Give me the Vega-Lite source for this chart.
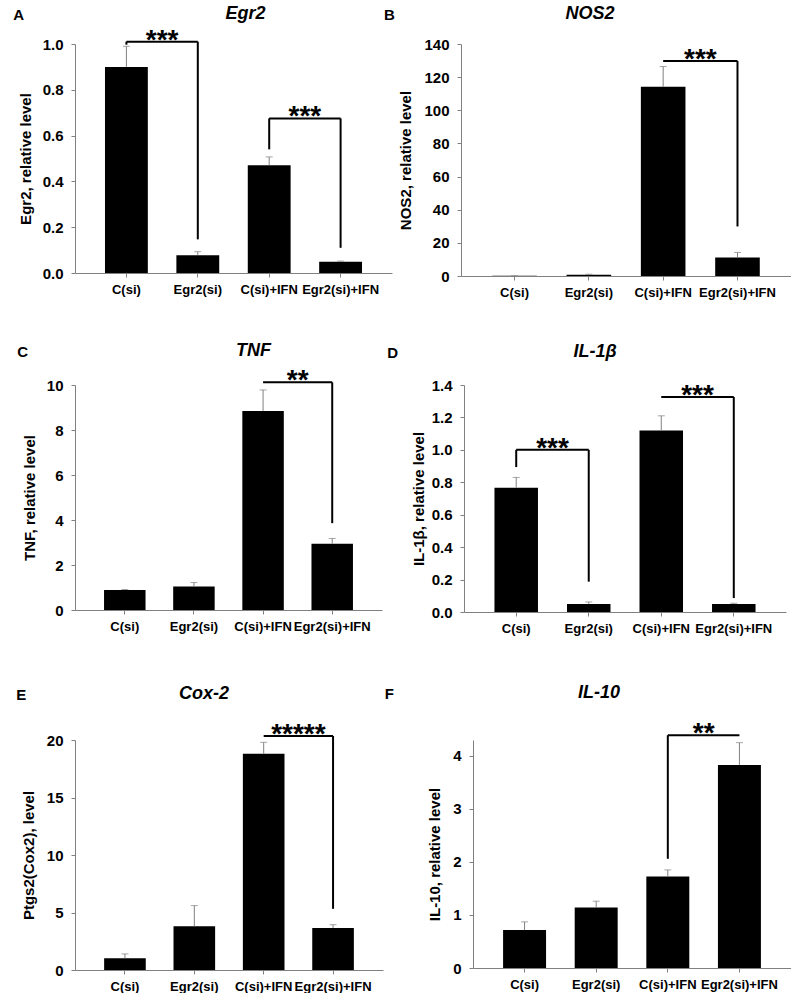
{
  "$schema": "https://vega.github.io/schema/vega-lite/v6.json",
  "background": "white",
  "padding": {"left": 13, "top": 4, "right": 0, "bottom": 0},
  "datasets": {
    "bars": [
      {"panel": "A", "g": "C(si)", "v": 0.90, "err": 0.99},
      {"panel": "A", "g": "Egr2(si)", "v": 0.078, "err": 0.093},
      {"panel": "A", "g": "C(si)+IFN", "v": 0.47, "err": 0.507},
      {"panel": "A", "g": "Egr2(si)+IFN", "v": 0.049, "err": 0.052},
      {"panel": "B", "g": "C(si)", "v": 0.1, "err": 0.15},
      {"panel": "B", "g": "Egr2(si)", "v": 0.8, "err": 1.1},
      {"panel": "B", "g": "C(si)+IFN", "v": 114.2, "err": 126.4},
      {"panel": "B", "g": "Egr2(si)+IFN", "v": 11.2, "err": 14.2},
      {"panel": "C", "g": "C(si)", "v": 0.89, "err": 0.91},
      {"panel": "C", "g": "Egr2(si)", "v": 1.04, "err": 1.22},
      {"panel": "C", "g": "C(si)+IFN", "v": 8.85, "err": 9.78},
      {"panel": "C", "g": "Egr2(si)+IFN", "v": 2.95, "err": 3.18},
      {"panel": "D", "g": "C(si)", "v": 0.767, "err": 0.83},
      {"panel": "D", "g": "Egr2(si)", "v": 0.05, "err": 0.062},
      {"panel": "D", "g": "C(si)+IFN", "v": 1.119, "err": 1.21},
      {"panel": "D", "g": "Egr2(si)+IFN", "v": 0.05, "err": 0.054},
      {"panel": "E", "g": "C(si)", "v": 1.02, "err": 1.4},
      {"panel": "E", "g": "Egr2(si)", "v": 3.8, "err": 5.6},
      {"panel": "E", "g": "C(si)+IFN", "v": 18.8, "err": 19.8},
      {"panel": "E", "g": "Egr2(si)+IFN", "v": 3.65, "err": 3.94},
      {"panel": "F", "g": "C(si)", "v": 0.716, "err": 0.87},
      {"panel": "F", "g": "Egr2(si)", "v": 1.14, "err": 1.26},
      {"panel": "F", "g": "C(si)+IFN", "v": 1.725, "err": 1.85},
      {"panel": "F", "g": "Egr2(si)+IFN", "v": 3.83, "err": 4.25}
    ],
    "sig": [
      {"panel": "A", "g1": "C(si)", "g2": "Egr2(si)", "yb": 1.01, "yl": 0.997, "yr": 0.147, "stars": "***"},
      {"panel": "A", "g1": "C(si)+IFN", "g2": "Egr2(si)+IFN", "yb": 0.675, "yl": 0.54, "yr": 0.11, "stars": "***"},
      {"panel": "B", "g1": "C(si)+IFN", "g2": "Egr2(si)+IFN", "yb": 129.7, "yl": 129.7, "yr": 29.9, "stars": "***"},
      {"panel": "C", "g1": "C(si)+IFN", "g2": "Egr2(si)+IFN", "yb": 10.12, "yl": 10.12, "yr": 3.86, "stars": "**"},
      {"panel": "D", "g1": "C(si)", "g2": "Egr2(si)", "yb": 1.0, "yl": 0.894, "yr": 0.187, "stars": "***"},
      {"panel": "D", "g1": "C(si)+IFN", "g2": "Egr2(si)+IFN", "yb": 1.326, "yl": 1.326, "yr": 0.086, "stars": "***"},
      {"panel": "E", "g1": "C(si)+IFN", "g2": "Egr2(si)+IFN", "yb": 20.35, "yl": 20.35, "yr": 5.32, "stars": "*****"},
      {"panel": "F", "g1": "C(si)+IFN", "g2": "Egr2(si)+IFN", "yb": 4.39, "yl": 2.06, "yr": 4.39, "stars": "**"}
    ]
  },
  "spacing": 43,
  "vconcat": [
    {
      "spacing": -9,
      "hconcat": [
        {
          "title": {"text": "A", "anchor": "start", "frame": "bounds", "fontStyle": "normal", "fontSize": 15, "dy": 22, "dx": -5},
          "vconcat": [
            {
              "width": 317, "height": 229,
              "title": {"text": "Egr2", "dx": 12},
              "layer": [
                {"data": {"name": "bars"}, "transform": [{"filter": "datum.panel == 'A'"}], "mark": {"type": "bar", "color": "black"},
                 "encoding": {
                   "x": {"field": "g", "type": "nominal", "sort": null, "scale": {"domain": ["C(si)", "Egr2(si)", "C(si)+IFN", "Egr2(si)+IFN"], "paddingInner": 0.4, "paddingOuter": 0.42}, "axis": {"title": null}},
                   "y": {"field": "v", "type": "quantitative", "scale": {"domain": [0, 1], "nice": false}, "axis": {"values": [0, 0.2, 0.4, 0.6, 0.8, 1.0], "tickCount": 10, "format": ".1f", "labelOverlap": false, "title": "Egr2, relative level", "titlePadding": 9}}
                 }},
                {"data": {"name": "bars"}, "transform": [{"filter": "datum.panel == 'A'"}], "mark": {"type": "rule", "color": "#808080", "strokeWidth": 1},
                 "encoding": {"x": {"field": "g", "type": "nominal"}, "y": {"field": "v", "type": "quantitative"}, "y2": {"field": "err"}}},
                {"data": {"name": "bars"}, "transform": [{"filter": "datum.panel == 'A'"}], "mark": {"type": "tick", "color": "#808080", "size": 7, "thickness": 1},
                 "encoding": {"x": {"field": "g", "type": "nominal"}, "y": {"field": "err", "type": "quantitative"}}},
                {"data": {"name": "sig"}, "transform": [{"filter": "datum.panel == 'A'"}], "mark": {"type": "rule", "color": "black", "strokeWidth": 2},
                 "encoding": {"x": {"field": "g1", "type": "nominal"}, "x2": {"field": "g2"}, "y": {"field": "yb", "type": "quantitative"}}},
                {"data": {"name": "sig"}, "transform": [{"filter": "datum.panel == 'A'"}], "mark": {"type": "rule", "color": "black", "strokeWidth": 2},
                 "encoding": {"x": {"field": "g1", "type": "nominal"}, "y": {"field": "yb", "type": "quantitative"}, "y2": {"field": "yl"}}},
                {"data": {"name": "sig"}, "transform": [{"filter": "datum.panel == 'A'"}], "mark": {"type": "rule", "color": "black", "strokeWidth": 2},
                 "encoding": {"x": {"field": "g2", "type": "nominal"}, "y": {"field": "yb", "type": "quantitative"}, "y2": {"field": "yr"}}},
                {"data": {"name": "sig"}, "transform": [{"filter": "datum.panel == 'A'"}], "mark": {"type": "text", "fontSize": 28, "fontWeight": "bold", "baseline": "alphabetic", "dy": 7},
                 "encoding": {"x": {"field": "g1", "type": "nominal", "bandPosition": 1.3333}, "y": {"field": "yb", "type": "quantitative"}, "text": {"field": "stars"}}}
              ]
            }
          ]
        },
        {
          "title": {"text": "B", "anchor": "start", "frame": "bounds", "fontStyle": "normal", "fontSize": 15, "dy": 22, "dx": -15},
          "vconcat": [
            {
              "width": 330, "height": 232,
              "title": {"text": "NOS2", "dx": -36, "offset": 14},
              "layer": [
                {"data": {"name": "bars"}, "transform": [{"filter": "datum.panel == 'B'"}], "mark": {"type": "bar", "color": "black"},
                 "encoding": {
                   "x": {"field": "g", "type": "nominal", "sort": null, "scale": {"domain": ["C(si)", "Egr2(si)", "C(si)+IFN", "Egr2(si)+IFN"], "paddingInner": 0.4, "paddingOuter": 0.42}, "axis": {"title": null}},
                   "y": {"field": "v", "type": "quantitative", "scale": {"domain": [0, 140], "nice": false}, "axis": {"values": [0, 20, 40, 60, 80, 100, 120, 140], "tickCount": 10, "format": "d", "labelOverlap": false, "title": "NOS2, relative level", "titlePadding": 10}}
                 }},
                {"data": {"name": "bars"}, "transform": [{"filter": "datum.panel == 'B'"}], "mark": {"type": "rule", "color": "#808080", "strokeWidth": 1},
                 "encoding": {"x": {"field": "g", "type": "nominal"}, "y": {"field": "v", "type": "quantitative"}, "y2": {"field": "err"}}},
                {"data": {"name": "bars"}, "transform": [{"filter": "datum.panel == 'B'"}], "mark": {"type": "tick", "color": "#808080", "size": 7, "thickness": 1},
                 "encoding": {"x": {"field": "g", "type": "nominal"}, "y": {"field": "err", "type": "quantitative"}}},
                {"data": {"name": "sig"}, "transform": [{"filter": "datum.panel == 'B'"}], "mark": {"type": "rule", "color": "black", "strokeWidth": 2},
                 "encoding": {"x": {"field": "g1", "type": "nominal"}, "x2": {"field": "g2"}, "y": {"field": "yb", "type": "quantitative"}}},
                {"data": {"name": "sig"}, "transform": [{"filter": "datum.panel == 'B'"}], "mark": {"type": "rule", "color": "black", "strokeWidth": 2},
                 "encoding": {"x": {"field": "g2", "type": "nominal"}, "y": {"field": "yb", "type": "quantitative"}, "y2": {"field": "yr"}}},
                {"data": {"name": "sig"}, "transform": [{"filter": "datum.panel == 'B'"}], "mark": {"type": "text", "fontSize": 28, "fontWeight": "bold", "baseline": "alphabetic", "dy": 7},
                 "encoding": {"x": {"field": "g1", "type": "nominal", "bandPosition": 1.3333}, "y": {"field": "yb", "type": "quantitative"}, "text": {"field": "stars"}}}
              ]
            }
          ]
        }
      ]
    },
    {
      "spacing": 49,
      "vconcat": [
        {
          "spacing": 5,
          "hconcat": [
            {
              "title": {"text": "C", "anchor": "start", "frame": "bounds", "fontStyle": "normal", "fontSize": 15, "dy": 22, "dx": -5},
              "vconcat": [
                {
                  "width": 307, "height": 225,
                  "title": {"text": "TNF", "dx": 25, "offset": 7},
                  "layer": [
                    {"data": {"name": "bars"}, "transform": [{"filter": "datum.panel == 'C'"}], "mark": {"type": "bar", "color": "black"},
                     "encoding": {
                       "x": {"field": "g", "type": "nominal", "sort": null, "scale": {"domain": ["C(si)", "Egr2(si)", "C(si)+IFN", "Egr2(si)+IFN"], "paddingInner": 0.4, "paddingOuter": 0.42}, "axis": {"title": null}},
                       "y": {"field": "v", "type": "quantitative", "scale": {"domain": [0, 10], "nice": false}, "axis": {"values": [0, 2, 4, 6, 8, 10], "tickCount": 10, "format": "d", "labelOverlap": false, "title": "TNF, relative level", "titlePadding": 9}}
                     }},
                    {"data": {"name": "bars"}, "transform": [{"filter": "datum.panel == 'C'"}], "mark": {"type": "rule", "color": "#808080", "strokeWidth": 1},
                     "encoding": {"x": {"field": "g", "type": "nominal"}, "y": {"field": "v", "type": "quantitative"}, "y2": {"field": "err"}}},
                    {"data": {"name": "bars"}, "transform": [{"filter": "datum.panel == 'C'"}], "mark": {"type": "tick", "color": "#808080", "size": 7, "thickness": 1},
                     "encoding": {"x": {"field": "g", "type": "nominal"}, "y": {"field": "err", "type": "quantitative"}}},
                    {"data": {"name": "sig"}, "transform": [{"filter": "datum.panel == 'C'"}], "mark": {"type": "rule", "color": "black", "strokeWidth": 2},
                     "encoding": {"x": {"field": "g1", "type": "nominal"}, "x2": {"field": "g2"}, "y": {"field": "yb", "type": "quantitative"}}},
                    {"data": {"name": "sig"}, "transform": [{"filter": "datum.panel == 'C'"}], "mark": {"type": "rule", "color": "black", "strokeWidth": 2},
                     "encoding": {"x": {"field": "g2", "type": "nominal"}, "y": {"field": "yb", "type": "quantitative"}, "y2": {"field": "yr"}}},
                    {"data": {"name": "sig"}, "transform": [{"filter": "datum.panel == 'C'"}], "mark": {"type": "text", "fontSize": 28, "fontWeight": "bold", "baseline": "alphabetic", "dy": 7},
                     "encoding": {"x": {"field": "g1", "type": "nominal", "bandPosition": 1.3333}, "y": {"field": "yb", "type": "quantitative"}, "text": {"field": "stars"}}}
                  ]
                }
              ]
            },
            {
              "title": {"text": "D", "anchor": "start", "frame": "bounds", "fontStyle": "normal", "fontSize": 15, "dy": 22, "dx": -24},
              "vconcat": [
                {
                  "width": 322, "height": 227,
                  "title": {"text": "IL-1β", "dx": -30, "offset": 17},
                  "layer": [
                    {"data": {"name": "bars"}, "transform": [{"filter": "datum.panel == 'D'"}], "mark": {"type": "bar", "color": "black"},
                     "encoding": {
                       "x": {"field": "g", "type": "nominal", "sort": null, "scale": {"domain": ["C(si)", "Egr2(si)", "C(si)+IFN", "Egr2(si)+IFN"], "paddingInner": 0.4, "paddingOuter": 0.42}, "axis": {"title": null}},
                       "y": {"field": "v", "type": "quantitative", "scale": {"domain": [0, 1.4], "nice": false}, "axis": {"values": [0, 0.2, 0.4, 0.6, 0.8, 1.0, 1.2, 1.4], "tickCount": 10, "format": ".1f", "labelOverlap": false, "title": "IL-1β, relative level", "titlePadding": 5}}
                     }},
                    {"data": {"name": "bars"}, "transform": [{"filter": "datum.panel == 'D'"}], "mark": {"type": "rule", "color": "#808080", "strokeWidth": 1},
                     "encoding": {"x": {"field": "g", "type": "nominal"}, "y": {"field": "v", "type": "quantitative"}, "y2": {"field": "err"}}},
                    {"data": {"name": "bars"}, "transform": [{"filter": "datum.panel == 'D'"}], "mark": {"type": "tick", "color": "#808080", "size": 7, "thickness": 1},
                     "encoding": {"x": {"field": "g", "type": "nominal"}, "y": {"field": "err", "type": "quantitative"}}},
                    {"data": {"name": "sig"}, "transform": [{"filter": "datum.panel == 'D'"}], "mark": {"type": "rule", "color": "black", "strokeWidth": 2},
                     "encoding": {"x": {"field": "g1", "type": "nominal"}, "x2": {"field": "g2"}, "y": {"field": "yb", "type": "quantitative"}}},
                    {"data": {"name": "sig"}, "transform": [{"filter": "datum.panel == 'D'"}], "mark": {"type": "rule", "color": "black", "strokeWidth": 2},
                     "encoding": {"x": {"field": "g1", "type": "nominal"}, "y": {"field": "yb", "type": "quantitative"}, "y2": {"field": "yl"}}},
                    {"data": {"name": "sig"}, "transform": [{"filter": "datum.panel == 'D'"}], "mark": {"type": "rule", "color": "black", "strokeWidth": 2},
                     "encoding": {"x": {"field": "g2", "type": "nominal"}, "y": {"field": "yb", "type": "quantitative"}, "y2": {"field": "yr"}}},
                    {"data": {"name": "sig"}, "transform": [{"filter": "datum.panel == 'D'"}], "mark": {"type": "text", "fontSize": 28, "fontWeight": "bold", "baseline": "alphabetic", "dy": 7},
                     "encoding": {"x": {"field": "g1", "type": "nominal", "bandPosition": 1.3333}, "y": {"field": "yb", "type": "quantitative"}, "text": {"field": "stars"}}}
                  ]
                }
              ]
            }
          ]
        },
        {
          "spacing": 1,
          "hconcat": [
            {
              "title": {"text": "E", "anchor": "start", "frame": "bounds", "fontStyle": "normal", "fontSize": 15, "dy": 22, "dx": -5},
              "vconcat": [
                {
                  "width": 308, "height": 230,
                  "title": {"text": "Cox-2", "dx": -25, "offset": 18},
                  "layer": [
                    {"data": {"name": "bars"}, "transform": [{"filter": "datum.panel == 'E'"}], "mark": {"type": "bar", "color": "black"},
                     "encoding": {
                       "x": {"field": "g", "type": "nominal", "sort": null, "scale": {"domain": ["C(si)", "Egr2(si)", "C(si)+IFN", "Egr2(si)+IFN"], "paddingInner": 0.4, "paddingOuter": 0.42}, "axis": {"title": null}},
                       "y": {"field": "v", "type": "quantitative", "scale": {"domain": [0, 20], "nice": false}, "axis": {"values": [0, 5, 10, 15, 20], "tickCount": 10, "format": "d", "labelOverlap": false, "title": "Ptgs2(Cox2), level", "titlePadding": 10}}
                     }},
                    {"data": {"name": "bars"}, "transform": [{"filter": "datum.panel == 'E'"}], "mark": {"type": "rule", "color": "#808080", "strokeWidth": 1},
                     "encoding": {"x": {"field": "g", "type": "nominal"}, "y": {"field": "v", "type": "quantitative"}, "y2": {"field": "err"}}},
                    {"data": {"name": "bars"}, "transform": [{"filter": "datum.panel == 'E'"}], "mark": {"type": "tick", "color": "#808080", "size": 7, "thickness": 1},
                     "encoding": {"x": {"field": "g", "type": "nominal"}, "y": {"field": "err", "type": "quantitative"}}},
                    {"data": {"name": "sig"}, "transform": [{"filter": "datum.panel == 'E'"}], "mark": {"type": "rule", "color": "black", "strokeWidth": 2},
                     "encoding": {"x": {"field": "g1", "type": "nominal"}, "x2": {"field": "g2"}, "y": {"field": "yb", "type": "quantitative"}}},
                    {"data": {"name": "sig"}, "transform": [{"filter": "datum.panel == 'E'"}], "mark": {"type": "rule", "color": "black", "strokeWidth": 2},
                     "encoding": {"x": {"field": "g2", "type": "nominal"}, "y": {"field": "yb", "type": "quantitative"}, "y2": {"field": "yr"}}},
                    {"data": {"name": "sig"}, "transform": [{"filter": "datum.panel == 'E'"}], "mark": {"type": "text", "fontSize": 28, "fontWeight": "bold", "baseline": "alphabetic", "dy": 7},
                     "encoding": {"x": {"field": "g1", "type": "nominal", "bandPosition": 1.3333}, "y": {"field": "yb", "type": "quantitative"}, "text": {"field": "stars"}}}
                  ]
                }
              ]
            },
            {
              "title": {"text": "F", "anchor": "start", "frame": "bounds", "fontStyle": "normal", "fontSize": 15, "dy": 22, "dx": -43},
              "vconcat": [
                {
                  "width": 318, "height": 228,
                  "title": {"text": "IL-10", "dx": -33, "offset": 18},
                  "layer": [
                    {"data": {"name": "bars"}, "transform": [{"filter": "datum.panel == 'F'"}], "mark": {"type": "bar", "color": "black"},
                     "encoding": {
                       "x": {"field": "g", "type": "nominal", "sort": null, "scale": {"domain": ["C(si)", "Egr2(si)", "C(si)+IFN", "Egr2(si)+IFN"], "paddingInner": 0.4, "paddingOuter": 0.42}, "axis": {"title": null}},
                       "y": {"field": "v", "type": "quantitative", "scale": {"domain": [0, 4.3], "nice": false}, "axis": {"values": [0, 1, 2, 3, 4], "tickCount": 10, "format": "d", "labelOverlap": false, "title": "IL-10, relative level", "titlePadding": 10}}
                     }},
                    {"data": {"name": "bars"}, "transform": [{"filter": "datum.panel == 'F'"}], "mark": {"type": "rule", "color": "#808080", "strokeWidth": 1},
                     "encoding": {"x": {"field": "g", "type": "nominal"}, "y": {"field": "v", "type": "quantitative"}, "y2": {"field": "err"}}},
                    {"data": {"name": "bars"}, "transform": [{"filter": "datum.panel == 'F'"}], "mark": {"type": "tick", "color": "#808080", "size": 7, "thickness": 1},
                     "encoding": {"x": {"field": "g", "type": "nominal"}, "y": {"field": "err", "type": "quantitative"}}},
                    {"data": {"name": "sig"}, "transform": [{"filter": "datum.panel == 'F'"}], "mark": {"type": "rule", "color": "black", "strokeWidth": 2},
                     "encoding": {"x": {"field": "g1", "type": "nominal"}, "x2": {"field": "g2"}, "y": {"field": "yb", "type": "quantitative"}}},
                    {"data": {"name": "sig"}, "transform": [{"filter": "datum.panel == 'F'"}], "mark": {"type": "rule", "color": "black", "strokeWidth": 2},
                     "encoding": {"x": {"field": "g1", "type": "nominal"}, "y": {"field": "yb", "type": "quantitative"}, "y2": {"field": "yl"}}},
                    {"data": {"name": "sig"}, "transform": [{"filter": "datum.panel == 'F'"}], "mark": {"type": "text", "fontSize": 28, "fontWeight": "bold", "baseline": "alphabetic", "dy": 7},
                     "encoding": {"x": {"field": "g1", "type": "nominal", "bandPosition": 1.3333}, "y": {"field": "yb", "type": "quantitative"}, "text": {"field": "stars"}}}
                  ]
                }
              ]
            }
          ]
        }
      ]
    }
  ],
  "config": {
    "view": {"stroke": null},
    "font": "Liberation Sans",
    "axis": {"domainColor": "#808080", "tickColor": "#808080", "labelColor": "black", "labelFontWeight": "bold", "labelFontSize": 15, "titleFontSize": 15, "titleFontWeight": "bold", "titleColor": "black", "grid": false, "tickSize": 4},
    "axisX": {"labelAngle": 0, "labelOverlap": false, "labelPadding": 6, "labelFontSize": 13},
    "axisY": {"labelPadding": 8, "labelOverlap": false},
    "title": {"fontSize": 18, "fontStyle": "italic", "fontWeight": "bold", "color": "black", "anchor": "middle", "frame": "group"}
  }
}
